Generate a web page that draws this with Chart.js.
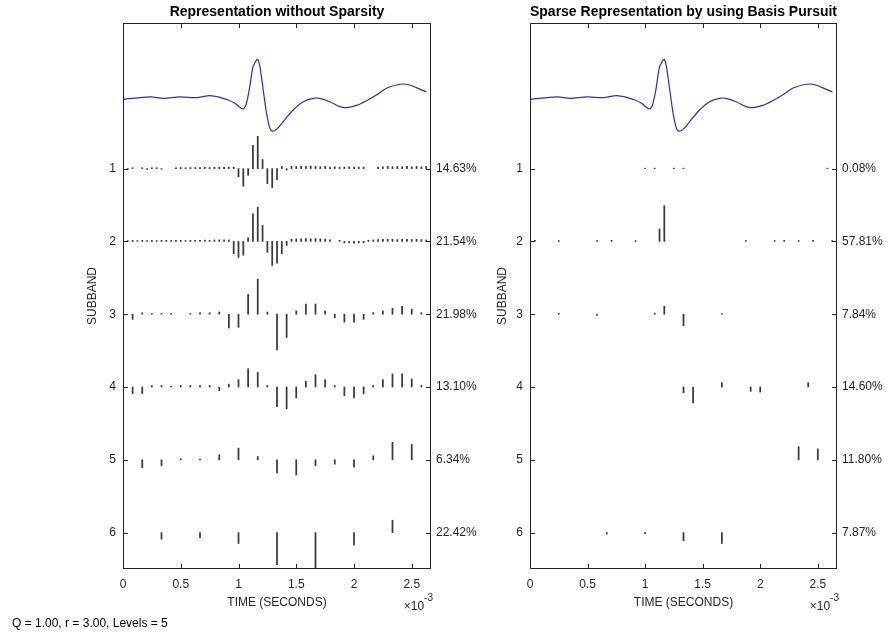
<!DOCTYPE html>
<html>
<head>
<meta charset="utf-8">
<script src="https://cdn.jsdelivr.net/npm/chart.js@4.4.0/dist/chart.umd.min.js"></script>
<style>
  body { margin: 0; background: #fff; width: 889px; height: 643px; overflow: hidden; position: relative;
         font-family: 'Liberation Sans', Arial, sans-serif; }
  canvas { position: absolute; top: 0; }
  #full { left: 0; }
  #sparse { left: 480px; }
  #note { position: absolute; left: 12px; top: 616px; font-size: 12px; color: #000; white-space: nowrap; }
</style>
</head>
<body>
<canvas id="full" width="480" height="620"></canvas>
<canvas id="sparse" width="409" height="620"></canvas>
<div id="note">Q = 1.00, r = 3.00, Levels = 5</div>
<script>
const fs = 24;          // samples per millisecond (24 kHz)
const nSamples = 64;
const subbands = [1, 2, 3, 4, 5, 6];
const hop = [1, 1, 2, 2, 4, 8];   // samples between coefficients in each subband
const xTicks = [0, 0.5, 1, 1.5, 2, 2.5];

// input signal (time in ms, amplitude, positive = up)
const sigT = [0.003, 0.234, 0.349, 0.493, 0.637, 0.753, 0.839, 0.911, 0.969, 1.012, 1.041, 1.064, 1.093,
  1.122, 1.142, 1.165, 1.185, 1.214, 1.243, 1.272, 1.292, 1.329, 1.387, 1.473, 1.560, 1.646, 1.704,
  1.791, 1.877, 1.935, 2.021, 2.108, 2.194, 2.281, 2.367, 2.425, 2.483, 2.540, 2.627];
const sigV = [-0.048, -0.016, -0.035, -0.016, -0.025, 0.002, -0.021, -0.058, -0.103, -0.158, -0.181, -0.126, 0.080,
  0.377, 0.455, 0.501, 0.400, 0.080, -0.241, -0.447, -0.484, -0.461, -0.355, -0.195, -0.081, -0.035, -0.035,
  -0.081, -0.149, -0.163, -0.131, -0.067, 0.011, 0.103, 0.148, 0.162, 0.148, 0.112, 0.052];

// wavelet coefficients, representation without sparsity
const fullSB1 = [0.012, -0.01, 0.012, 0, 0.012, -0.012, 0.012, 0.012, -0.01, 0, 0, 0.012, 0.015, 0.012, 0.015, 0.015,
  0.015, 0.018, 0.015, 0.018, 0.02, 0.018, 0.02, 0.02,
  -0.114, -0.243, -0.092, 0.32, 0.444, 0.124, -0.206, -0.261, -0.151,
  0.03, -0.02, 0.03, 0.03, 0.035, 0.03, 0.035, 0.03, 0.025, 0.03, 0.02, 0.025, 0.02, 0.02, 0.025, 0.02, 0.02, 0.02,
  0, 0, 0.02, 0.025, 0.03, 0.025, 0.03, 0.025, 0.03, 0.025, 0.03, 0.025, 0.03];
const fullSB2 = [0.015, 0.012, 0.015, 0.012, 0.015, 0.012, 0.015, 0.012, 0.015, 0.015, 0.012, 0.015, 0.015, 0.012,
  0.015, 0.015, 0.015, 0.018, 0.015, 0.02, 0.02, 0.02, 0.02,
  -0.17, -0.22, -0.19, 0.05, 0.38, 0.47, 0.22, -0.15, -0.33, -0.30, -0.17, -0.055,
  0.03, 0.035, 0.035, 0.04, 0.035, 0.04, 0.035, 0.03, 0.02, 0, 0.015, -0.02, -0.02, -0.025, -0.02, -0.02, 0.015,
  0.02, 0.025, 0.03, 0.03, 0.03, 0.025, 0.03, 0.03, 0.025, 0.03, 0.025, 0.02];
const fullSB3 = [-0.03, -0.07, 0.02, 0.01, 0.01, 0.01, 0, 0.01, 0.02, 0.02, 0.03, -0.19, -0.18, 0.27, 0.48, 0.03,
  -0.49, -0.32, 0.045, 0.14, 0.14, 0.045, -0.05, -0.11, -0.11, -0.07, 0.02, 0.045, 0.08, 0.11, 0.07, 0.02];
const fullSB4 = [0.01, -0.09, -0.09, 0.02, 0.02, 0.01, 0.02, 0.02, 0.02, 0.02, -0.05, 0.04, 0.10, 0.25, 0.20, 0.02,
  -0.27, -0.30, -0.15, 0.08, 0.17, 0.10, 0.02, -0.12, -0.15, -0.09, 0.02, 0.10, 0.18, 0.18, 0.11, 0.02];
const fullSB5 = [0.01, -0.11, -0.08, 0.015, 0.01, 0.07, 0.16, 0.045, -0.18, -0.21, -0.08, -0.06, -0.10, 0.055, 0.24, 0.21];
const fullSB6 = [0.11, -0.09, -0.07, -0.15, -0.44, -0.49, -0.17, 0.17];
const fullPct = ['14.63%', '21.54%', '21.98%', '13.10%', '6.34%', '22.42%'];

// wavelet coefficients, sparse representation (basis pursuit)
const sparseSB1 = [0, 0, 0, 0, 0, 0, 0, 0, 0, 0, 0, 0, 0, 0, 0, 0, 0, 0, 0, 0, 0, 0, 0, 0, 0.006, 0, 0.006, 0, 0, 0,
  0.006, 0, 0.006, 0, 0, 0, 0, 0, 0, 0, 0, 0, 0, 0, 0, 0, 0, 0, 0, 0, 0, 0, 0, 0, 0, 0, 0, 0, 0, 0, 0, 0, 0.006, 0];
const sparseSB2 = [0, 0.015, 0, 0, 0, 0, 0.012, 0, 0, 0, 0, 0, 0, 0, 0.012, 0, 0, 0.015, 0, 0,
  0, 0, 0.012, 0, 0, 0, 0, 0.17, 0.49, 0, 0, 0, 0, 0, 0, 0, 0, 0, 0, 0,
  0, 0, 0, 0, 0, 0.012, 0, 0, 0, 0, 0, 0.012, 0, 0.015, 0, 0, 0.012, 0, 0, 0.015, 0, 0, 0, 0.012];
const sparseSB3 = [0, 0, 0, 0.012, 0, 0, 0, -0.015, 0, 0, 0, 0, 0, 0.015, 0.11, 0, -0.16, 0, 0, 0,
  0.008, 0, 0, 0, 0, 0, 0, 0, 0, 0, 0, 0];
const sparseSB4 = [0, 0, 0, 0, 0, 0, 0, 0, 0, 0, 0, 0, 0, 0, 0, 0, -0.08, -0.22, 0, 0,
  0.06, 0, 0, -0.06, -0.07, 0, 0, 0, 0, 0.06, 0, 0];
const sparseSB5 = [0, 0, 0, 0, 0, 0, 0, 0, 0, 0, 0, 0, 0, 0, 0.18, 0.15];
const sparseSB6 = [0, 0, -0.02, -0.015, -0.11, -0.15, 0, 0];
const sparsePct = ['0.08%', '57.81%', '7.84%', '14.60%', '11.80%', '7.87%'];

Chart.defaults.font.family = "'Liberation Sans', Arial, sans-serif";
Chart.defaults.font.size = 12;
Chart.defaults.color = '#262626';

const ink = '#262626';

// MATLAB-like box with inward ticks and the x10^-3 exponent
const boxPlugin = {
  id: 'box',
  afterDraw(chart) {
    const { ctx, chartArea: a, scales: { x, y } } = chart;
    ctx.save();
    ctx.strokeStyle = ink;
    ctx.lineWidth = 1;
    ctx.strokeRect(a.left + 0.5, a.top + 0.5, a.right - a.left - 1, a.bottom - a.top - 1);
    ctx.beginPath();
    xTicks.forEach(v => {
      const px = Math.round(x.getPixelForValue(v)) + 0.5;
      ctx.moveTo(px, a.bottom); ctx.lineTo(px, a.bottom - 5);
      ctx.moveTo(px, a.top); ctx.lineTo(px, a.top + 5);
    });
    subbands.forEach(v => {
      const py = Math.round(y.getPixelForValue(v)) + 0.5;
      ctx.moveTo(a.left, py); ctx.lineTo(a.left + 5, py);
      ctx.moveTo(a.right, py); ctx.lineTo(a.right - 5, py);
    });
    ctx.stroke();
    ctx.fillStyle = ink;
    ctx.textAlign = 'right';
    ctx.textBaseline = 'alphabetic';
    ctx.font = "10px 'Liberation Sans', Arial, sans-serif";
    ctx.fillText('-3', a.right + 2, 601);
    const w = ctx.measureText('-3').width;
    ctx.font = "12px 'Liberation Sans', Arial, sans-serif";
    ctx.fillText('\u00d710', a.right + 2 - w, 610);
    ctx.restore();
  }
};

// one floating bar per non-zero coefficient, hanging from its subband line
function stemSets(rows) {
  return rows.map((vals, i) => ({
    type: 'bar',
    data: vals.map((v, n) => ({ x: n * hop[i] / fs, v }))
              .filter(p => p.v !== 0)
              .map(p => ({ x: p.x, y: [subbands[i], subbands[i] - p.v] })),
    backgroundColor: '#3a3a3a',
    borderWidth: 0,
    barThickness: 1.1,
    grouped: false
  }));
}

function makeChart(id, title, rows, pct, leftW, rightW, titlePad) {
  const signal = {
    type: 'line',
    data: sigT.map((t, i) => ({ x: t, y: -sigV[i] })),
    borderColor: '#2a2acb',
    borderWidth: 1.2,
    pointRadius: 0,
    tension: 0.3
  };
  return new Chart(document.getElementById(id), {
    type: 'bar',
    data: { datasets: [signal, ...stemSets(rows)] },
    options: {
      responsive: false,
      animation: false,
      events: [],
      layout: { padding: 0 },
      plugins: {
        legend: { display: false },
        tooltip: { enabled: false },
        title: {
          display: true, text: title, fullSize: false, color: '#000',
          font: { size: 14, weight: 'bold' }, padding: { top: 4, bottom: 2.2 }
        }
      },
      scales: {
        x: {
          type: 'linear', min: 0, max: nSamples / fs, offset: false,
          afterBuildTicks: s => { s.ticks = xTicks.map(v => ({ value: v })); },
          afterFit: s => { s.height = 51; },
          grid: { display: false, drawTicks: false }, border: { display: false },
          ticks: { padding: 8, color: ink, callback: v => String(v), maxRotation: 0 },
          title: { display: true, text: 'TIME (SECONDS)', color: ink, padding: { top: 0, bottom: 10.3 } }
        },
        y: {
          type: 'linear', position: 'left', reverse: true, min: -1, max: 6.5,
          afterBuildTicks: s => { s.ticks = subbands.map(v => ({ value: v })); },
          afterFit: s => { s.width = leftW; },
          grid: { display: false, drawTicks: false }, border: { display: false },
          ticks: { padding: 7, color: ink, callback: v => String(v) },
          title: { display: true, text: 'SUBBAND', color: ink, padding: { top: titlePad, bottom: 0 } }
        },
        y2: {
          type: 'linear', position: 'right', reverse: true, min: -1, max: 6.5,
          afterBuildTicks: s => { s.ticks = subbands.map(v => ({ value: v })); },
          afterFit: s => { s.width = rightW; },
          grid: { display: false, drawTicks: false }, border: { display: false },
          ticks: { padding: 5, color: ink, callback: v => pct[v - 1] }
        }
      }
    },
    plugins: [boxPlugin]
  });
}

makeChart('full', 'Representation without Sparsity',
  [fullSB1, fullSB2, fullSB3, fullSB4, fullSB5, fullSB6], fullPct, 123, 49, 85.8);
makeChart('sparse', 'Sparse Representation by using Basis Pursuit',
  [sparseSB1, sparseSB2, sparseSB3, sparseSB4, sparseSB5, sparseSB6], sparsePct, 50, 52, 15.8);
</script>
</body>
</html>
